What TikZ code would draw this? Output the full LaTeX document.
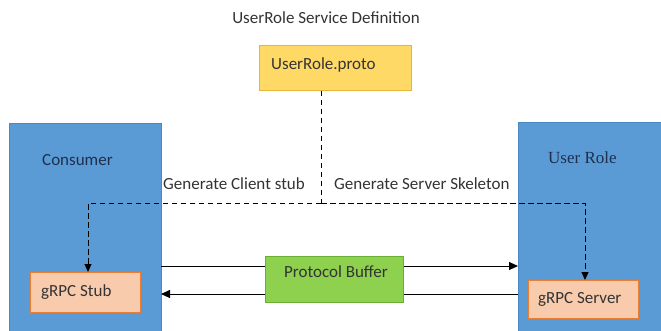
\documentclass[tikz,border=0pt]{standalone}
\usepackage{fontspec}
\setmainfont{Carlito}
\newfontfamily\seriffont{Liberation Serif}
\usetikzlibrary{arrows.meta}
\definecolor{bluebox}{HTML}{5B9BD5}
\definecolor{blueedge}{HTML}{4A88C2}
\definecolor{yellowfill}{HTML}{FFD966}
\definecolor{yellowedge}{HTML}{E6B53C}
\definecolor{orangefill}{HTML}{F8CBAD}
\definecolor{orangeedge}{HTML}{ED7D31}
\definecolor{greenfill}{HTML}{8ED14F}
\definecolor{greenedge}{HTML}{6AAF35}
\definecolor{darktext}{HTML}{1F2F4F}
\tikzset{
  lbl/.style={font=\fontsize{17}{19}\selectfont, text=black!80, inner sep=0pt},
  system/.style={fill=bluebox, draw=blueedge, line width=0.6pt},
  innerbox/.style={fill=orangefill, draw=orangeedge, line width=1pt, inner sep=0pt, anchor=north west},
  gen/.style={line width=1pt, dash pattern=on 5.5pt off 3.5pt},
  msg/.style={line width=1pt, -{Triangle[length=9pt,width=8pt]}}
}
\begin{document}
\begin{tikzpicture}[x=1pt,y=-1pt]
\useasboundingbox (0,0) rectangle (661,330);
% title
\node[lbl] (title) at (326,18) {UserRole Service Definition};
% proto file
\node[fill=yellowfill, draw=yellowedge, line width=0.8pt, minimum width=152pt, minimum height=45pt, anchor=north west, inner sep=0pt] (proto) at (259,45) {};
\node[lbl, anchor=west] (protot) at (271,65) {UserRole.proto};
% systems
\node[system, minimum width=152pt, minimum height=212pt, anchor=north west, inner sep=0pt] (consumer) at (9,123) {};
\node[system, minimum width=150pt, minimum height=212pt, anchor=north west, inner sep=0pt] (userrole) at (518,122) {};
\node[font=\fontsize{17}{19}\selectfont, text=darktext, anchor=west, inner sep=0pt] (consumert) at (42,160) {Consumer};
\node[font=\seriffont\fontsize{17}{19}\selectfont, text=darktext, anchor=west, inner sep=0pt] (userrolet) at (548,158) {User Role};
% inner boxes
\node[innerbox, minimum width=110pt, minimum height=40pt] (stub) at (30,272) {};
\node[lbl, anchor=west] (stubt) at (41,292) {gRPC Stub};
\node[innerbox, minimum width=110pt, minimum height=38pt] (server) at (528,280) {};
\node[lbl, anchor=west] (servert) at (538,299) {gRPC Server};
% protocol buffer
\coordinate (la) at (161,266);
\coordinate (lb) at (161,294);
\coordinate (ra) at (518,266);
\coordinate (rb) at (518,294);
\draw[msg] (la) -- (ra);
\draw[msg] (rb) -- (lb);
\node[fill=greenfill, draw=greenedge, line width=0.8pt, minimum width=138pt, minimum height=46pt, anchor=north west, inner sep=0pt] (pb) at (265,256) {};
\node[lbl] (pbt) at (336,272) {Protocol Buffer};
% generation lines
\coordinate (split) at (321,203);
\coordinate (lc) at (88,203);
\coordinate (rc) at (585,203);
\draw[gen] (proto.south -| split) -- (split);
\draw[gen, -{Triangle[length=8pt,width=7pt]}] (split) -- (lc) -- (lc |- stub.north);
\draw[gen, -{Triangle[length=8pt,width=7pt]}] (split) -- (rc) -- (rc |- server.north);
\node[lbl, anchor=west] (gcs) at (163,184) {Generate Client stub};
\node[lbl, anchor=west] (gss) at (334,184) {Generate Server Skeleton};
\end{tikzpicture}
\end{document}
